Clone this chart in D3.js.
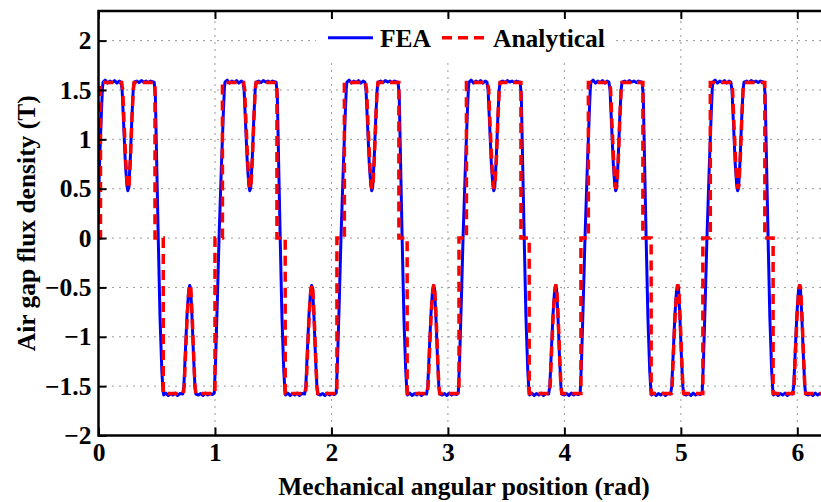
<!DOCTYPE html>
<html>
<head>
<meta charset="utf-8">
<script src="https://cdn.jsdelivr.net/npm/d3@7"></script>
<style>
body { margin: 0; background: #fff; }
svg { display: block; font-family: "Liberation Serif", "Times New Roman", serif; font-weight: bold; }
</style>
</head>
<body>
<svg id="chart" width="821" height="502"></svg>
<script>
var xMax = 2 * Math.PI;

// upward zero crossings of the FEA curve, one per pole pair (rad)
var cycleStarts = [-0.012, 1.035, 2.082, 3.130, 4.177, 5.224, 6.271];

// one pole pair of the FEA curve, offsets from the crossing (rad) and B (T)
var feaShapeX = [-0.041, -0.030, -0.015, 0, 0.020, 0.038, 0.046, 0.051, 0.070, 0.090, 0.110, 0.130, 0.150, 0.170, 0.190, 0.205,
    0.215, 0.228, 0.243, 0.256, 0.264, 0.272, 0.285, 0.298, 0.310, 0.318,
    0.340, 0.360, 0.380, 0.400, 0.420, 0.440, 0.460, 0.490,
    0.500, 0.512, 0.525, 0.540, 0.556, 0.566, 0.572,
    0.590, 0.610, 0.630, 0.650, 0.670, 0.690, 0.710, 0.735,
    0.745, 0.758, 0.772, 0.786, 0.795, 0.803, 0.815, 0.828, 0.840, 0.848,
    0.870, 0.890, 0.910, 0.930, 0.950, 0.970, 0.990];
var feaShapeY = [-1.57, -1.25, -0.65, 0, 0.72, 1.30, 1.52, 1.58, 1.60, 1.57, 1.59, 1.575, 1.595, 1.57, 1.59, 1.58,
    1.50, 1.15, 0.75, 0.53, 0.48, 0.51, 0.80, 1.20, 1.50, 1.58,
    1.59, 1.575, 1.595, 1.58, 1.59, 1.575, 1.59, 1.58,
    1.45, 0.75, 0, -0.80, -1.35, -1.55, -1.59,
    -1.57, -1.595, -1.575, -1.59, -1.57, -1.595, -1.575, -1.58,
    -1.50, -1.15, -0.78, -0.53, -0.48, -0.51, -0.80, -1.20, -1.50, -1.58,
    -1.59, -1.575, -1.595, -1.57, -1.59, -1.575, -1.585];

// same pole pair of the analytical curve
var anaShapeX = [-0.035, -0.035, 0.029, 0.029,
    0.211, 0.220, 0.232, 0.246, 0.258, 0.266, 0.274, 0.286, 0.299, 0.310, 0.318,
    0.497, 0.497, 0.568, 0.568,
    0.740, 0.748, 0.760, 0.774, 0.787, 0.796, 0.804, 0.816, 0.829, 0.840, 0.848];
var anaShapeY = [-1.575, 0, 0, 1.575,
    1.575, 1.50, 1.15, 0.78, 0.56, 0.50, 0.53, 0.80, 1.20, 1.50, 1.575,
    1.575, 0, 0, -1.575,
    -1.575, -1.50, -1.15, -0.78, -0.55, -0.47, -0.50, -0.78, -1.18, -1.50, -1.575];

// values at 0 and 2*pi
var feaEnds = [0.25, 0.25];
var anaEnds = [0, 0];

var xTicks = [0, 1, 2, 3, 4, 5, 6];
var yTicks = [-2, -1.5, -1, -0.5, 0, 0.5, 1, 1.5, 2];
var seriesNames = ["FEA", "Analytical"];
var seriesColors = ["#0000ff", "#ff0000"];

var svg = d3.select("#chart");
var plotLeft = 98.5, plotTop = 11, plotRight = 830.3, plotBottom = 435.5;
var fontSize = "25.5px";

var x = d3.scaleLinear().domain([0, xMax]).range([plotLeft, plotRight]);
var y = d3.scaleLinear().domain([-2, 2.3]).range([plotBottom, plotTop]);

function buildSeries(sx, sy, ends) {
    var pts = [{x: 0, y: ends[0]}];
    cycleStarts.forEach(function(c) {
        sx.forEach(function(dx, i) {
            var px = c + dx;
            if (px > 0 && px < xMax) {
                pts.push({x: px, y: sy[i]});
            }
        });
    });
    pts.push({x: xMax, y: ends[1]});
    return pts;
}

var fea = buildSeries(feaShapeX, feaShapeY, feaEnds);
var analytical = buildSeries(anaShapeX, anaShapeY, anaEnds);

svg.append("rect").attr("width", 821).attr("height", 502).attr("fill", "#fff");

svg.append("defs").append("clipPath").attr("id", "plot-clip")
    .append("rect").attr("x", plotLeft).attr("y", plotTop)
    .attr("width", plotRight - plotLeft).attr("height", plotBottom - plotTop);

// dotted grid
var grid = svg.append("g").attr("stroke", "#333").attr("stroke-width", 1)
    .attr("stroke-dasharray", "1,6");
grid.selectAll("line.gx").data(xTicks.filter(function(d) { return d > 0; }))
    .enter().append("line").attr("class", "gx")
    .attr("x1", function(d) { return x(d); }).attr("x2", function(d) { return x(d); })
    .attr("y1", plotBottom).attr("y2", plotTop);
grid.selectAll("line.gy").data(yTicks.filter(function(d) { return d > -2; }))
    .enter().append("line").attr("class", "gy")
    .attr("x1", plotLeft).attr("x2", plotRight)
    .attr("y1", function(d) { return y(d); }).attr("y2", function(d) { return y(d); });

var line = d3.line()
    .x(function(d) { return x(d.x); })
    .y(function(d) { return y(d.y); });

var plot = svg.append("g").attr("clip-path", "url(#plot-clip)");
plot.append("path").datum(fea)
    .attr("fill", "none").attr("stroke", seriesColors[0]).attr("stroke-width", 3)
    .attr("stroke-linejoin", "round").attr("d", line);
plot.append("path").datum(analytical)
    .attr("fill", "none").attr("stroke", seriesColors[1]).attr("stroke-width", 3.5)
    .attr("stroke-dasharray", "10,6").attr("d", line);

// axes, ticks pointing inward
function styleAxis(g) {
    g.selectAll(".domain").remove();
    g.selectAll(".tick line").attr("stroke", "#000").attr("stroke-width", 2);
    g.selectAll(".tick text").attr("fill", "#000")
        .style("font-size", fontSize).style("font-family", "Liberation Serif, serif").style("font-weight", "bold");
}

svg.append("g").attr("transform", "translate(0," + plotBottom + ")")
    .call(d3.axisBottom(x).tickValues(xTicks).tickSize(-8).tickSizeOuter(0).tickPadding(7)
        .tickFormat(d3.format("d")))
    .call(styleAxis);
svg.append("g").attr("transform", "translate(0," + plotTop + ")")
    .call(d3.axisTop(x).tickValues(xTicks).tickSize(-8).tickSizeOuter(0).tickFormat(""))
    .call(styleAxis);
svg.append("g").attr("transform", "translate(" + plotLeft + ",0)")
    .call(d3.axisLeft(y).tickValues(yTicks).tickSize(-8).tickSizeOuter(0).tickPadding(7)
        .tickFormat(function(d) { return d3.format("")(d).replace("-", "\u2212"); }))
    .call(styleAxis);

svg.append("rect").attr("x", plotLeft).attr("y", plotTop)
    .attr("width", plotRight - plotLeft).attr("height", plotBottom - plotTop)
    .attr("fill", "none").attr("stroke", "#000").attr("stroke-width", 2.5);

// legend
var legend = svg.append("g");
legend.append("rect").attr("x", 316).attr("y", 19).attr("width", 297).attr("height", 39).attr("fill", "#fff");
var legendItems = [{x1: 328, x2: 373, tx: 380}, {x1: 442, x2: 488, tx: 493}];
legendItems.forEach(function(item, i) {
    legend.append("line").attr("x1", item.x1).attr("x2", item.x2).attr("y1", 37.7).attr("y2", 37.7)
        .attr("stroke", seriesColors[i]).attr("stroke-width", i === 0 ? 3 : 3.5)
        .attr("stroke-dasharray", i === 0 ? null : "10,6");
    legend.append("text").attr("x", item.tx).attr("y", 46.5)
        .style("font-size", fontSize).text(seriesNames[i]);
});

svg.append("text").attr("x", 464).attr("y", 495).attr("text-anchor", "middle")
    .style("font-size", fontSize).text("Mechanical angular position (rad)");
svg.append("text").attr("transform", "translate(35," + (plotTop + plotBottom) / 2 + ") rotate(-90)")
    .attr("text-anchor", "middle").style("font-size", fontSize).text("Air gap flux density (T)");
</script>
</body>
</html>
